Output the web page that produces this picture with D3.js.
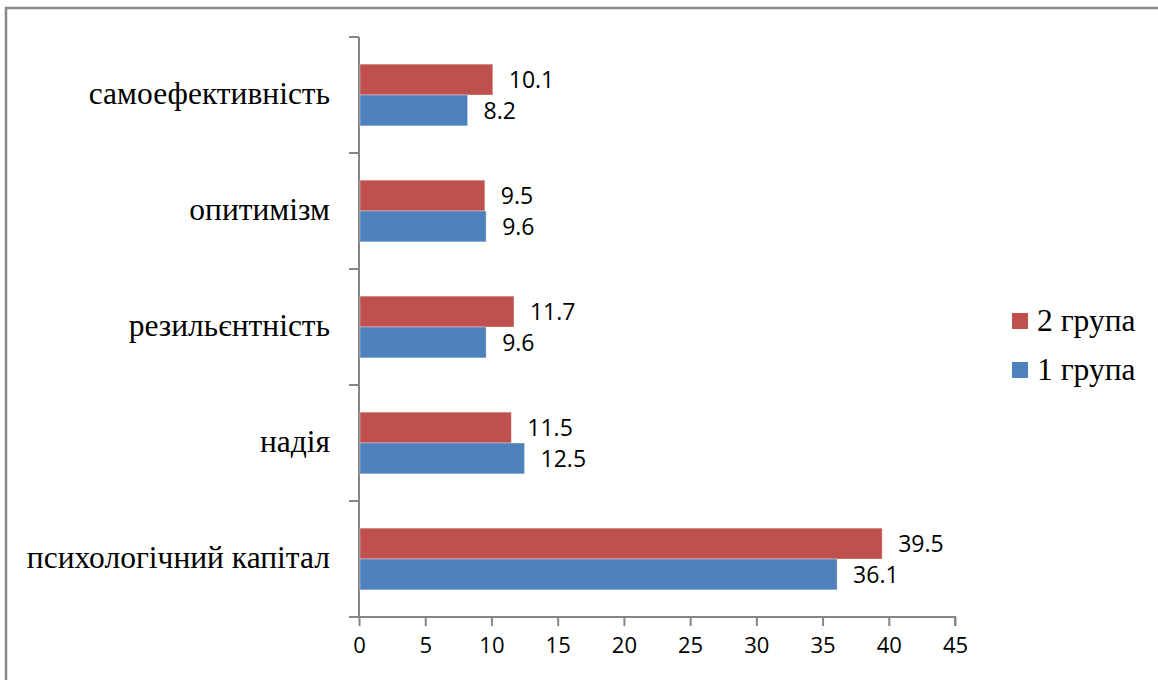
<!DOCTYPE html>
<html>
<head>
<meta charset="utf-8">
<script src="https://cdn.jsdelivr.net/npm/d3@7"></script>
<style>
  body { margin: 0; background: #fff; }
</style>
</head>
<body>
<div id="chart"></div>
<script>
// categories from top to bottom
var categories = ["самоефективність", "опитимізм", "резильєнтність", "надія", "психологічний капітал"];
var group2 = [10.1, 9.5, 11.7, 11.5, 39.5];
var group1 = [8.2, 9.6, 9.6, 12.5, 36.1];
var seriesNames = ["2 група", "1 група"];
var seriesColors = ["#C0504D", "#4F81BD"];
var xTicks = [0, 5, 10, 15, 20, 25, 30, 35, 40, 45];

var serif = "'Liberation Serif'";
var sans = "'Open Sans'";

var svgWidth = 1158;
var svgHeight = 680;
var margin = { top: 37, right: 203, bottom: 63, left: 359 };
var width = svgWidth - margin.left - margin.right;
var height = svgHeight - margin.top - margin.bottom;

var svg = d3.select("#chart")
  .append("svg")
  .attr("width", svgWidth)
  .attr("height", svgHeight);

// outer frame (top and left edges are visible)
svg.append("path")
  .attr("d", "M6," + svgHeight + " V8 H" + svgWidth)
  .attr("fill", "none")
  .attr("stroke", "#898989")
  .attr("stroke-width", 2.5);

var chart = svg.append("g")
  .attr("transform", `translate(${margin.left}, ${margin.top})`);

var xScale = d3.scaleLinear().domain([0, 45]).range([0, width]);
var yScale = d3.scaleBand().domain(categories).range([0, height]);
var inner = d3.scaleBand().domain(seriesNames)
  .range([0, yScale.bandwidth()]).paddingOuter(0.88);

// y axis with ticks between categories
var yBounds = categories.map(function(c) { return yScale(c); }).concat([height]);
chart.append("line")
  .attr("x1", 0).attr("x2", 0).attr("y1", 0).attr("y2", height)
  .attr("stroke", "#868686").attr("stroke-width", 2);
chart.selectAll(".ytick").data(yBounds).enter().append("line")
  .attr("x1", -10).attr("x2", 0)
  .attr("y1", d => d).attr("y2", d => d)
  .attr("stroke", "#868686").attr("stroke-width", 2);

// x axis
var bottomAxis = d3.axisBottom(xScale).tickValues(xTicks).tickSize(9).tickPadding(11);
var xAxis = chart.append("g")
  .attr("transform", `translate(0, ${height})`)
  .call(bottomAxis);
xAxis.select(".domain").attr("stroke", "#868686").attr("stroke-width", 2)
  .attr("d", "M0,0H" + width + "V9");
xAxis.selectAll(".tick line").attr("stroke", "#868686").attr("stroke-width", 2);
xAxis.selectAll(".tick text")
  .attr("fill", "#000")
  .style("font-family", sans)
  .style("font-size", "22px");

// bars
var rows = categories.map(function(c, i) {
  return [
    { cat: c, s: seriesNames[0], v: group2[i], color: seriesColors[0] },
    { cat: c, s: seriesNames[1], v: group1[i], color: seriesColors[1] }
  ];
});
var flat = [].concat.apply([], rows);

chart.selectAll(".bar").data(flat).enter().append("rect")
  .attr("x", 1)
  .attr("y", d => yScale(d.cat) + inner(d.s))
  .attr("width", d => xScale(d.v) - 1)
  .attr("height", inner.bandwidth())
  .attr("fill", d => d.color)
  .attr("stroke", "#ffffff")
  .attr("stroke-opacity", 0.35)
  .attr("stroke-width", 1);

// value labels
chart.selectAll(".val").data(flat).enter().append("text")
  .style("font-family", sans)
  .style("font-size", "23px")
  .attr("x", d => xScale(d.v) + 16)
  .attr("y", d => yScale(d.cat) + inner(d.s) + inner.bandwidth() / 2)
  .attr("dy", "0.36em")
  .text(d => d.v.toFixed(1));

// category labels
chart.selectAll(".cat").data(categories).enter().append("text")
  .style("font-family", serif)
  .style("font-size", "31.5px")
  .attr("x", -29)
  .attr("y", d => yScale(d) + yScale.bandwidth() / 2)
  .attr("dy", "0.3em")
  .attr("text-anchor", "end")
  .text(d => d);

// legend
var legend = svg.append("g").attr("transform", "translate(1012, 313)");
var li = legend.selectAll(".li").data(seriesNames).enter().append("g")
  .attr("transform", (d, i) => `translate(0, ${i * 49})`);
li.append("rect")
  .attr("width", 16).attr("height", 16)
  .attr("fill", (d, i) => seriesColors[i]);
li.append("text")
  .style("font-family", serif)
  .style("font-size", "31.5px")
  .attr("x", 25).attr("y", 8).attr("dy", "0.33em")
  .text(d => d);
</script>
</body>
</html>
